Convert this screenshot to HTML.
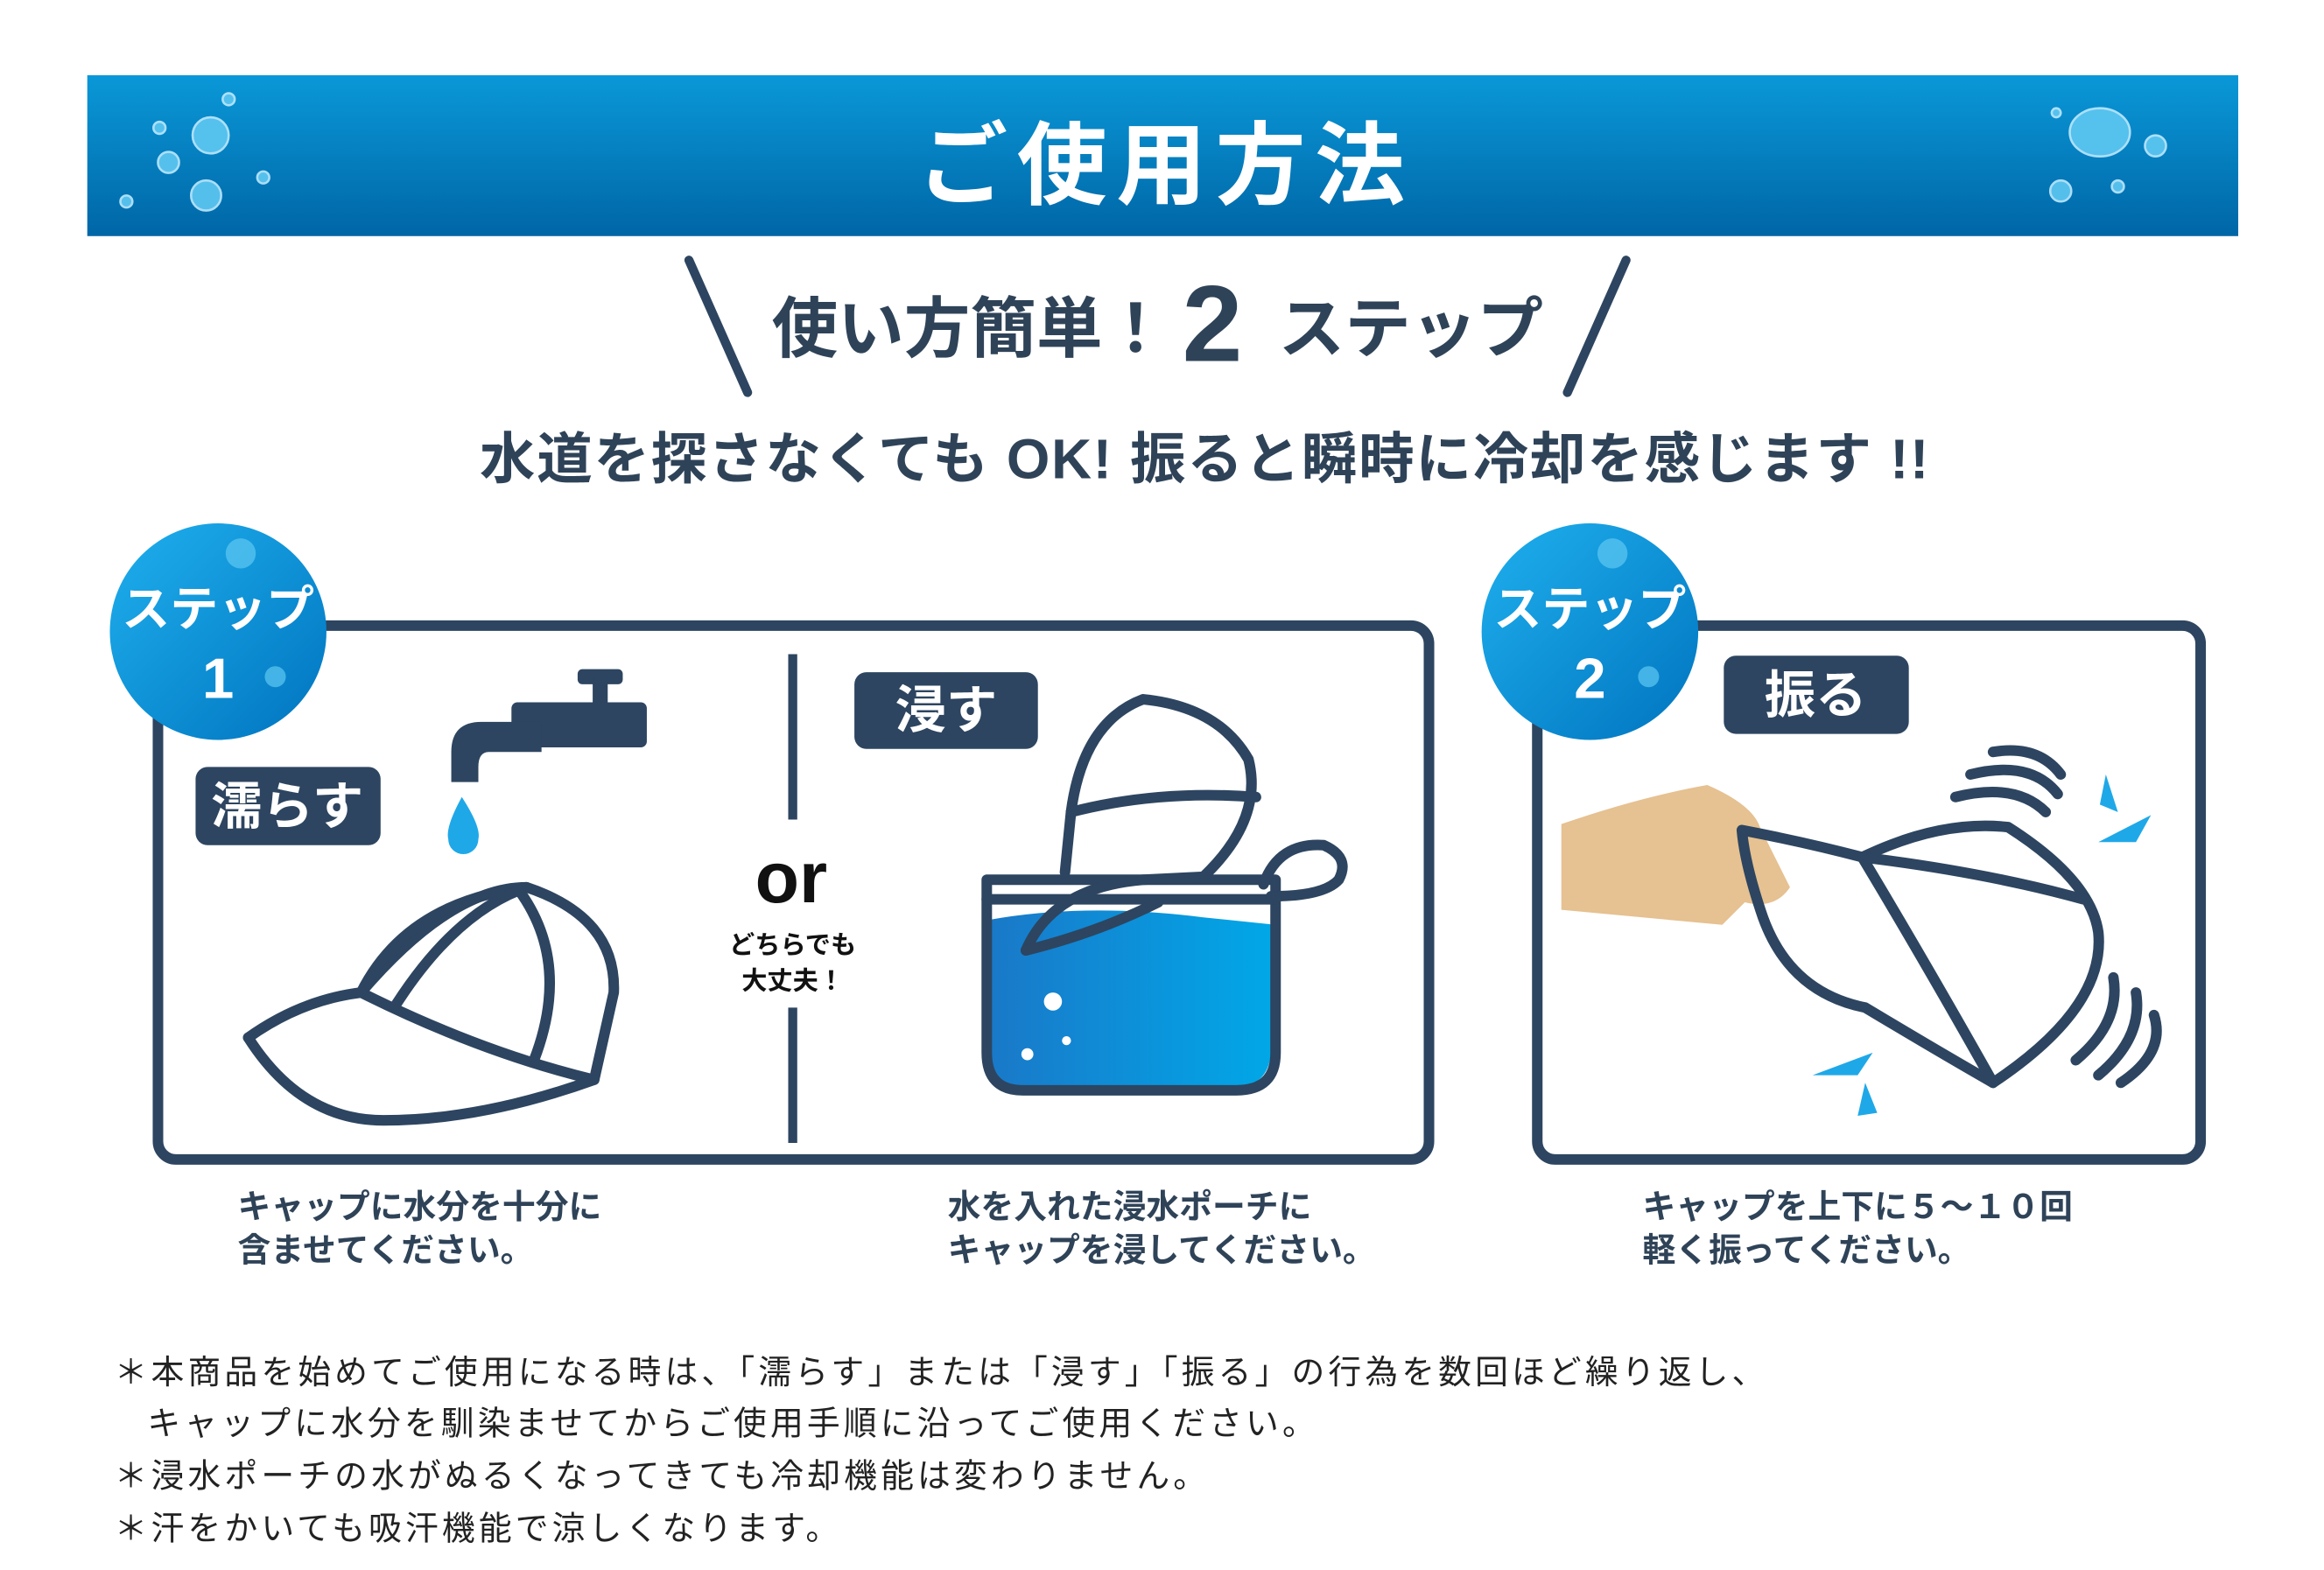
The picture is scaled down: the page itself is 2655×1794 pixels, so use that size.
<!DOCTYPE html>
<html><head><meta charset="utf-8"><style>
html,body{margin:0;padding:0;background:#fff;}
svg{display:block;}
text{font-family:"Liberation Sans","Noto Sans CJK JP",sans-serif;}
</style></head><body>
<svg width="2655" height="1794" viewBox="0 0 1545 1044" xmlns="http://www.w3.org/2000/svg">
<defs>
<linearGradient id="hb" x1="0" y1="0" x2="0" y2="1"><stop offset="0" stop-color="#0a98d8"/><stop offset="1" stop-color="#0066a6"/></linearGradient>
<linearGradient id="cb" x1="0" y1="0" x2="1" y2="1"><stop offset="0" stop-color="#1fb0ee"/><stop offset="1" stop-color="#0074bf"/></linearGradient>
<linearGradient id="wb" x1="0" y1="0" x2="1" y2="0"><stop offset="0" stop-color="#1a78c8"/><stop offset="1" stop-color="#00a8e8"/></linearGradient>
</defs>
<rect width="1545" height="1044" fill="#fff"/>
<rect x="58" y="50" width="1430" height="107" fill="url(#hb)"/>
<g fill="#5ec8f2" stroke="#bfeaff" stroke-width="1.5" opacity="0.9">
<circle cx="140" cy="90" r="12"/><circle cx="112" cy="108" r="7"/><circle cx="137" cy="130" r="10"/><circle cx="106" cy="85" r="4"/><circle cx="152" cy="66" r="4"/><circle cx="175" cy="118" r="4"/><circle cx="84" cy="134" r="4"/>
<ellipse cx="1396" cy="88" rx="20" ry="16"/><circle cx="1433" cy="97" r="7"/><circle cx="1370" cy="127" r="7"/><circle cx="1408" cy="124" r="4"/><circle cx="1367" cy="75" r="3"/>
</g>
<text x="775" y="131" text-anchor="middle" fill="#fff" font-size="60" font-weight="bold" letter-spacing="6">ご使用方法</text>
<g stroke="#2d4560" stroke-width="6" stroke-linecap="round">
<line x1="458" y1="173" x2="497" y2="261"/><line x1="1081" y1="173" x2="1042" y2="261"/>
</g>
<g fill="#2f4358" font-weight="bold">
<text x="513" y="234" font-size="44">使い方簡単！</text>
<text x="786" y="240" font-size="72">2</text>
<text x="850" y="234" font-size="44">ステップ</text>
<text x="801" y="318" font-size="37" text-anchor="middle" letter-spacing="1">水道を探さなくても OK!  振ると瞬時に冷却を感じます !!</text>
</g>
<rect x="105" y="416" width="845" height="355" rx="12" fill="none" stroke="#2d4560" stroke-width="7"/>
<line x1="527" y1="435" x2="527" y2="545" stroke="#2d4560" stroke-width="6"/>
<line x1="527" y1="670" x2="527" y2="760" stroke="#2d4560" stroke-width="6"/>
<text x="526" y="600" text-anchor="middle" font-size="48" font-weight="bold" fill="#111">or</text>
<text x="527" y="634" text-anchor="middle" font-size="17" font-weight="bold" fill="#111">どちらでも</text>
<text x="527" y="658" text-anchor="middle" font-size="17" font-weight="bold" fill="#111">大丈夫！</text>
<circle cx="145" cy="420" r="72" fill="url(#cb)"/>
<text x="145" y="416" text-anchor="middle" fill="#fff" font-size="32" font-weight="bold">ステップ</text>
<text x="145" y="464" text-anchor="middle" fill="#fff" font-size="38" font-weight="bold">1</text>
<circle cx="160" cy="368" r="10" fill="#5ec8f2" opacity="0.7"/><circle cx="183" cy="450" r="7" fill="#5ec8f2" opacity="0.7"/>
<rect x="130" y="510" width="123" height="52" rx="8" fill="#2d4560"/>
<text x="191" y="548" text-anchor="middle" fill="#fff" font-size="34" font-weight="bold">濡らす</text>
<rect x="568" y="447" width="122" height="51" rx="8" fill="#2d4560"/>
<text x="629" y="484" text-anchor="middle" fill="#fff" font-size="34" font-weight="bold">浸す</text>
<g fill="#2d4560">
<rect x="384" y="445" width="30" height="10" rx="3"/><rect x="394" y="450" width="10" height="20"/>
<rect x="340" y="467" width="90" height="30" rx="4"/>
<path d="M300 520 L300 500 Q300 480 320 480 L360 480 L360 500 L325 500 Q318 500 318 510 L318 520 Z"/>
</g>
<path d="M307 530 Q296 550 298 558 A10 10 0 0 0 318 558 Q320 550 307 530Z" fill="#1fa8e8"/>
<g fill="none" stroke="#2d4560" stroke-width="7" stroke-linejoin="round" stroke-linecap="round">
<path d="M165 690 Q200 665 240 660 Q300 590 350 590 Q410 610 408 660 L395 718 Q320 700 240 660"/>
<path d="M165 690 Q200 745 255 745 Q320 745 395 718"/>
<path d="M240 660 Q270 600 350 590"/>
<path d="M262 670 Q300 610 345 592 Q380 640 355 705"/>
</g>
<path d="M656 612 Q720 600 800 610 L848 615 L845 700 Q843 723 820 723 L680 723 Q656 723 656 700 Z" fill="url(#wb)"/>
<g fill="none" stroke="#2d4560" stroke-width="7" stroke-linejoin="round" stroke-linecap="round">
<path d="M656 585 L656 700 Q656 725 680 725 L822 725 Q848 725 848 700 L848 585 Z"/>
<line x1="656" y1="598" x2="848" y2="598"/>
<path d="M840 588 Q850 560 880 562 Q898 570 890 585 Q880 596 845 596"/>
<path d="M682 632 Q700 590 760 585 L800 583 Q840 545 830 505 Q810 470 760 465 Q720 480 712 540 L708 580"/>
<path d="M712 540 Q770 525 835 530"/>
<path d="M682 632 Q730 620 770 600"/>
</g>
<g fill="#fff"><circle cx="700" cy="666" r="6"/><circle cx="683" cy="701" r="4"/><circle cx="709" cy="692" r="3"/></g>
<rect x="1022" y="416" width="441" height="355" rx="12" fill="none" stroke="#2d4560" stroke-width="7"/>
<circle cx="1057" cy="420" r="72" fill="url(#cb)"/>
<text x="1057" y="416" text-anchor="middle" fill="#fff" font-size="32" font-weight="bold">ステップ</text>
<text x="1057" y="464" text-anchor="middle" fill="#fff" font-size="38" font-weight="bold">2</text>
<circle cx="1072" cy="368" r="10" fill="#5ec8f2" opacity="0.7"/><circle cx="1096" cy="450" r="7" fill="#5ec8f2" opacity="0.7"/>
<rect x="1146" y="436" width="123" height="52" rx="8" fill="#2d4560"/>
<text x="1207" y="474" text-anchor="middle" fill="#fff" font-size="34" font-weight="bold">振る</text>
<path d="M1038 548 Q1090 530 1135 522 Q1165 535 1170 550 L1190 590 Q1180 605 1160 600 L1145 615 L1038 605 Z" fill="#e6c191"/>
<g fill="none" stroke="#2d4560" stroke-width="7" stroke-linejoin="round" stroke-linecap="round">
<path d="M1158 552 Q1200 560 1238 570 Q1290 545 1335 550 Q1390 585 1395 620 Q1400 670 1325 720 Q1290 700 1240 670 Q1190 660 1172 610 Q1160 575 1158 552Z"/>
<path d="M1238 570 Q1280 640 1325 720"/>
<path d="M1238 570 Q1320 580 1385 598"/>
<path d="M1300 530 Q1340 520 1360 540 M1310 515 Q1350 505 1368 528 M1325 500 Q1355 495 1370 515"/>
<path d="M1380 705 Q1410 680 1405 650 M1395 715 Q1425 690 1420 660 M1410 720 Q1440 700 1432 675"/>
</g>
<g fill="#1fa8e8"><path d="M1400 515 L1408 540 L1396 535Z"/><path d="M1395 560 L1430 542 L1420 560Z"/><path d="M1205 715 L1245 700 L1235 715Z"/><path d="M1240 720 L1248 740 L1235 742Z"/></g>
<g fill="#2f4358" font-size="22" font-weight="bold">
<text x="158" y="810">キャップに水分を十分に</text><text x="158" y="839">含ませてください。</text>
<text x="630" y="810">水を入れた浸水ポーチに</text><text x="630" y="839">キャップを浸してください。</text>
<text x="1092" y="810">キャップを上下に５〜１０回</text><text x="1092" y="839">軽く振ってください。</text>
</g>
<g fill="#222" font-size="22" letter-spacing="2.4">
<text x="76" y="920">＊本商品を始めてご使用になる時は、「濡らす」または「浸す」「振る」の行為を数回ほど繰り返し、</text>
<text x="98" y="954">キャップに水分を馴染ませてからご使用手順に沿ってご使用ください。</text>
<text x="76" y="989">＊浸水ポーチの水がぬるくなってきても冷却機能は変わりません。</text>
<text x="76" y="1024">＊汗をかいても吸汗機能で涼しくなります。</text>
</g>
</svg>
</body></html>
